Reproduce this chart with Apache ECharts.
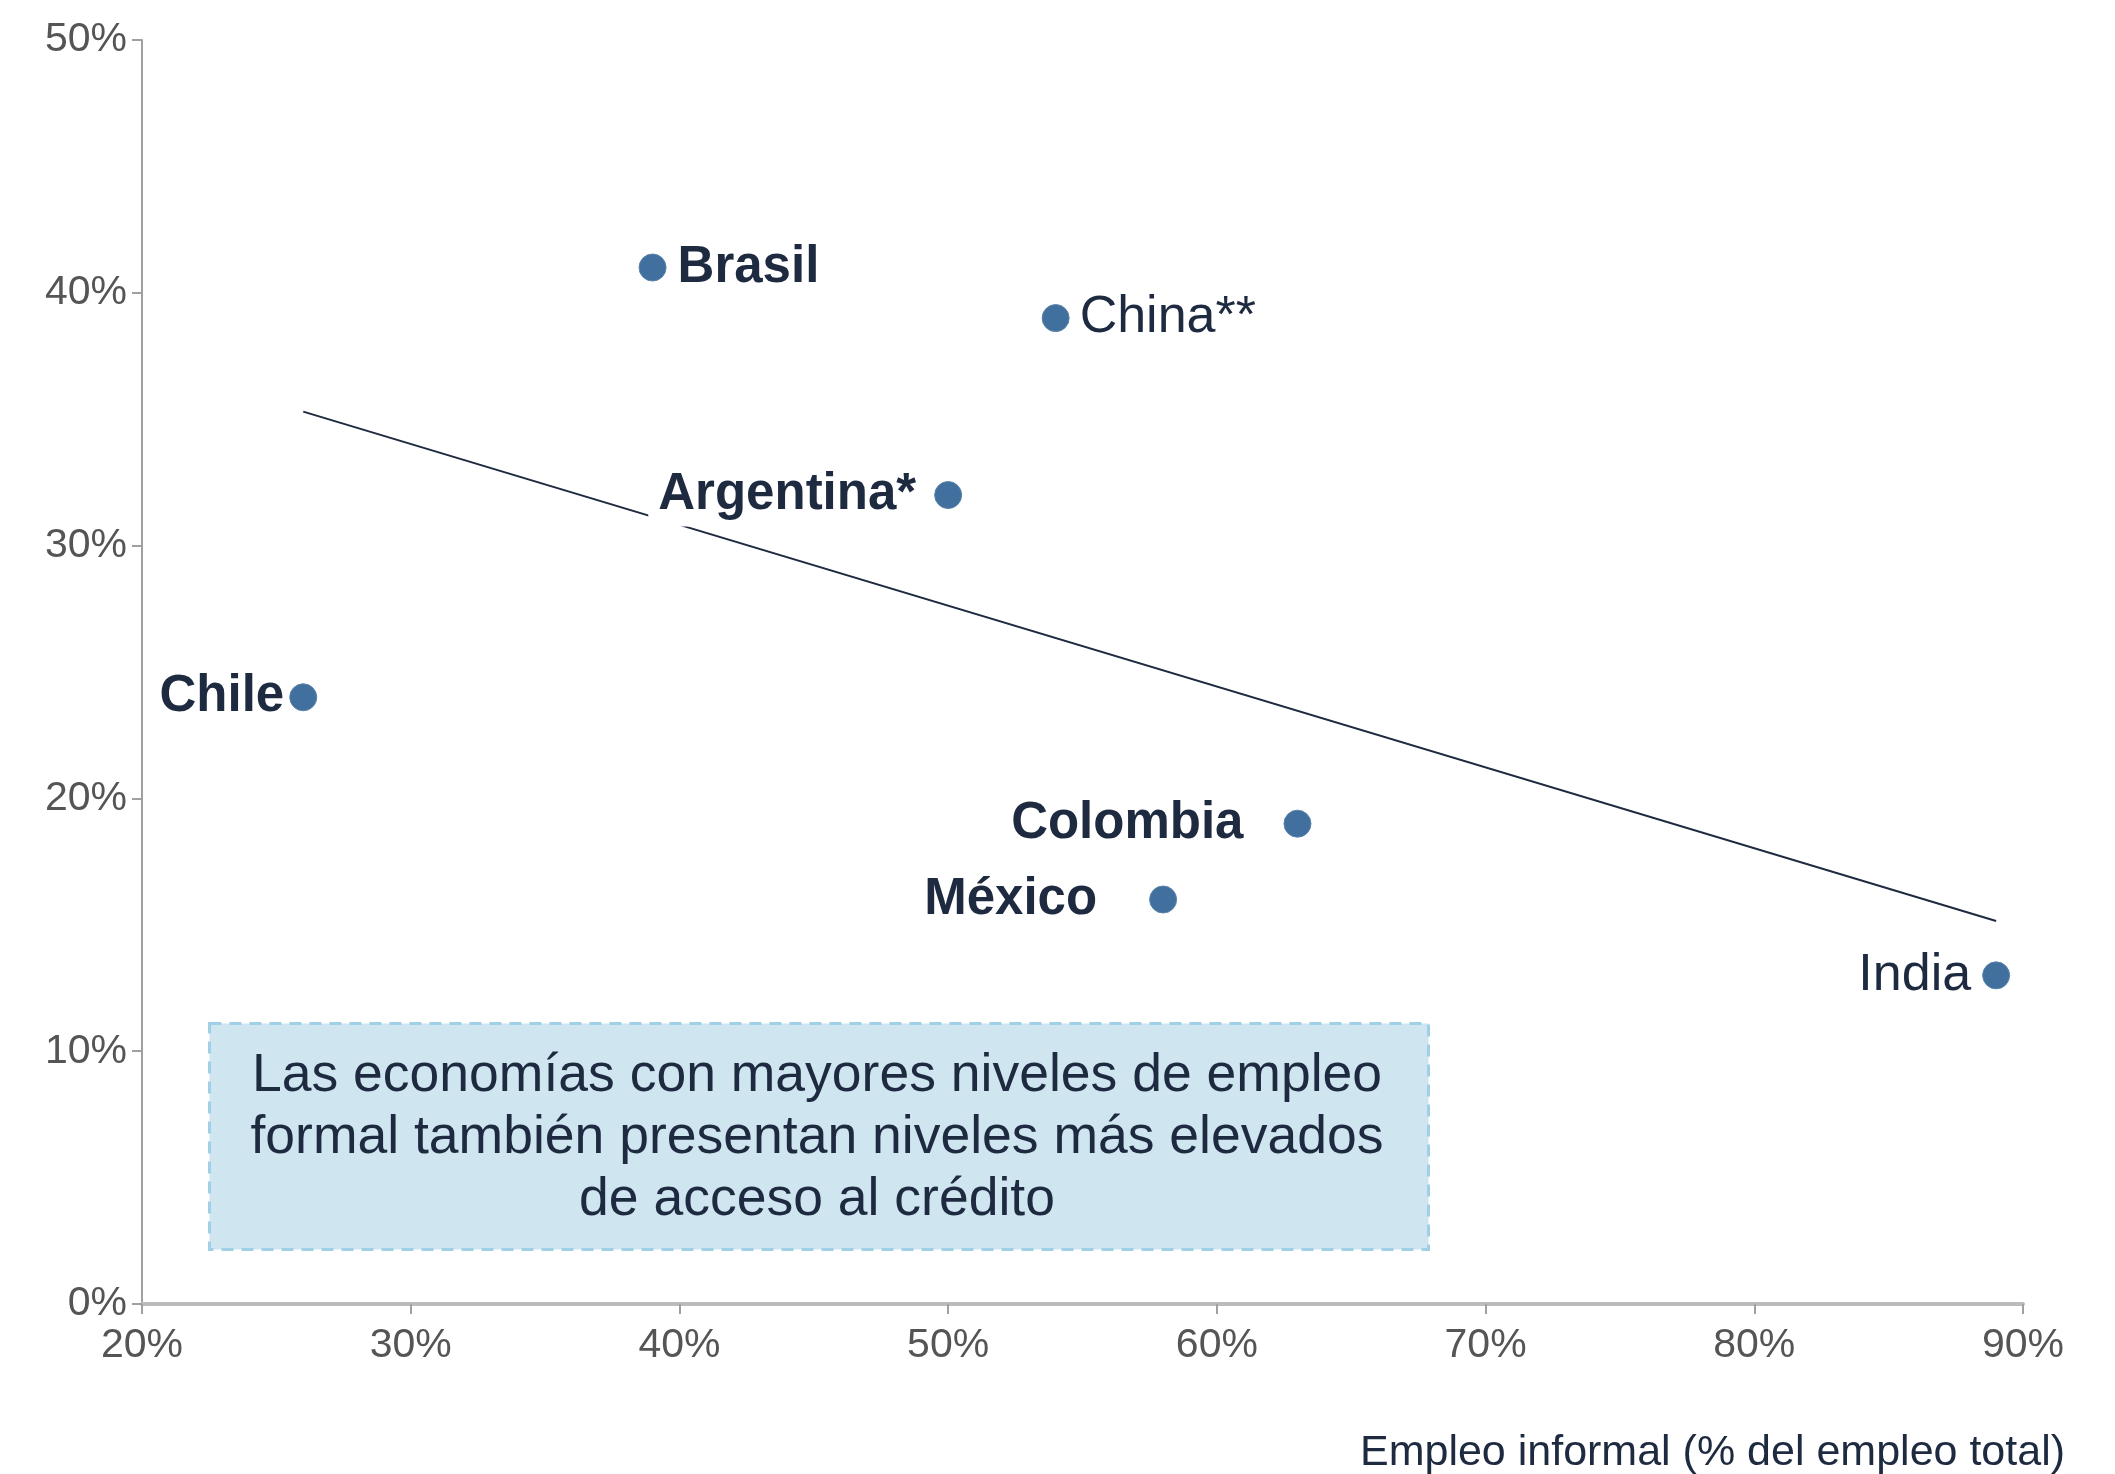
<!DOCTYPE html>
<html>
<head>
<meta charset="utf-8">
<script src="https://cdn.jsdelivr.net/npm/echarts@6/dist/echarts.min.js"></script>
<style>
html,body{margin:0;padding:0;background:#fff;}
#chart{width:2115px;height:1474px;}
</style>
</head>
<body>
<div id="chart"></div>
<script>
// ---- data ----
const countries = ['Brasil', 'China**', 'Argentina*', 'Chile', 'Colombia', 'México', 'India'];
const informalEmployment = [39, 54, 50, 26, 63, 58, 89];   // x, %
const creditAccess = [41, 39, 32, 24, 19, 16, 13];           // y, %
const trendX = [26, 89];
const trendY = [35.3, 15.15];
const xTickValues = [20, 30, 40, 50, 60, 70, 80, 90];
const yTickValues = [0, 10, 20, 30, 40, 50];
const xAxisTitle = 'Empleo informal (% del empleo total)';
const noteLines = ['Las economías con mayores niveles de empleo', 'formal también presentan niveles más elevados', 'de acceso al crédito'];

// ---- label styling (kept separate from data) ----
const labelSide = {'Brasil':'right','China**':'right','Argentina*':'left','Chile':'left','Colombia':'left','México':'left','India':'left'};
const labelBold = {'Brasil':true,'China**':false,'Argentina*':true,'Chile':true,'Colombia':true,'México':true,'India':false};
const labelGap  = {'Brasil':11,'China**':10,'Argentina*':16,'Chile':5,'Colombia':40,'México':52,'India':11};

const NAVY = '#1e2a40';
const FONT = '"Liberation Sans", Arial, Helvetica, sans-serif';

const scatterData = countries.map((n, i) => ({
  name: n,
  value: [informalEmployment[i], creditAccess[i]],
  label: {
    show: true,
    position: labelSide[n],
    distance: labelGap[n],
    formatter: '{b}',
    fontSize: labelBold[n] ? 51 : 52,
    fontWeight: labelBold[n] ? 'bold' : 'normal',
    color: NAVY,
    fontFamily: FONT,
    backgroundColor: n === 'Argentina*' ? '#ffffff' : 'transparent',
    padding: n === 'Argentina*' ? [2, 2, 10, 10] : 0
  }
}));

const chart = echarts.init(document.getElementById('chart'), null, {renderer: 'canvas'});
chart.setOption({
  animation: false,
  backgroundColor: '#ffffff',
  grid: {left: 142, right: 92, top: 40, bottom: 170, containLabel: false},
  xAxis: {
    type: 'value', min: 20, max: 90, interval: 10,
    axisLine: {show: true, lineStyle: {color: '#bcbcbc', width: 4}},
    axisTick: {show: true, length: 10, lineStyle: {color: '#a0a0a0', width: 2}},
    splitLine: {show: false},
    axisLabel: {
      margin: 21, fontSize: 41, color: '#555555', fontFamily: FONT,
      formatter: v => xTickValues.includes(v) ? v + '%' : ''
    }
  },
  yAxis: {
    type: 'value', min: 0, max: 50, interval: 10,
    axisLine: {show: true, lineStyle: {color: '#a0a0a0', width: 2}},
    axisTick: {show: true, length: 10, lineStyle: {color: '#a0a0a0', width: 2}},
    splitLine: {show: false},
    axisLabel: {
      margin: 15, fontSize: 41, color: '#555555', fontFamily: FONT,
      formatter: v => yTickValues.includes(v) ? v + '%' : ''
    }
  },
  series: [
    {
      type: 'line',
      z: 1,
      data: trendX.map((x, i) => [x, trendY[i]]),
      showSymbol: false,
      symbol: 'none',
      lineStyle: {color: NAVY, width: 2},
      silent: true
    },
    {
      type: 'scatter',
      z: 3,
      symbolSize: 27,
      itemStyle: {color: '#41709e', borderColor: '#5a83ab', borderWidth: 1, opacity: 1},
      data: scatterData
    }
  ],
  graphic: [
    {
      type: 'rect',
      left: 208, top: 1022,
      shape: {width: 1219, height: 226},
      style: {fill: '#cfe5f0', stroke: '#9fd0e6', lineWidth: 3, lineDash: [12, 8]},
      z: 0
    },
    {
      type: 'text',
      x: 817, y: 1045,
      style: {
        text: noteLines.join('\n'),
        align: 'center', verticalAlign: 'top',
        fontSize: 53.5, lineHeight: 62,
        fontFamily: FONT,
        fill: NAVY
      },
      z: 5
    },
    {
      type: 'text',
      right: 50, top: 1432,
      style: {
        text: xAxisTitle,
        fontSize: 43,
        fontFamily: FONT,
        fill: NAVY
      }
    }
  ]
});
</script>
</body>
</html>
